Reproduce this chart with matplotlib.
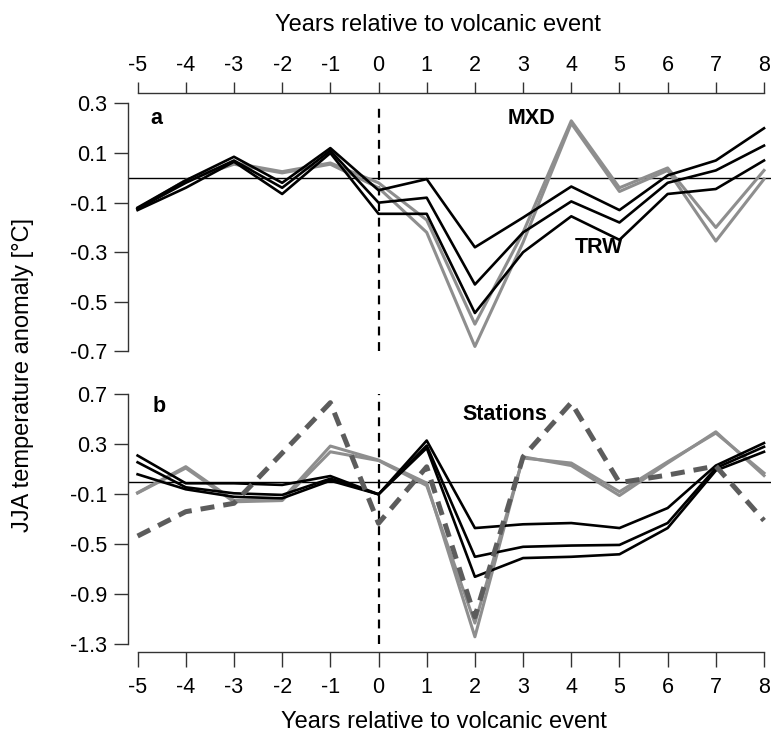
import matplotlib
matplotlib.use('Agg')
import matplotlib.pyplot as plt

plt.rcParams['font.family'] = ['Liberation Sans', 'DejaVu Sans']

years = list(range(-5, 9))

# panel a: tree-ring width (black) and max. latewood density (grey)
trw_a = [
    [-0.12, -0.01, 0.085, -0.02, 0.12, -0.05, -0.005, -0.28, -0.16, -0.035, -0.13, 0.01, 0.07, 0.20],
    [-0.125, -0.02, 0.07, -0.04, 0.11, -0.10, -0.08, -0.43, -0.22, -0.095, -0.18, -0.02, 0.03, 0.13],
    [-0.13, -0.04, 0.065, -0.065, 0.10, -0.145, -0.145, -0.545, -0.30, -0.155, -0.25, -0.065, -0.045, 0.07],
]
mxd_a = [
    [-0.125, -0.01, 0.06, 0.025, 0.06, -0.02, -0.17, -0.59, -0.22, 0.23, -0.04, 0.04, -0.20, 0.03],
    [-0.125, -0.01, 0.055, 0.02, 0.055, -0.04, -0.22, -0.68, -0.26, 0.22, -0.055, 0.03, -0.255, -0.005],
]

# panel b: same proxies plus instrumental stations (dashed)
trw_b = [
    [0.21, -0.012, -0.012, -0.025, 0.046, -0.10, 0.33, -0.37, -0.34, -0.33, -0.37, -0.21, 0.13, 0.31],
    [0.156, -0.044, -0.092, -0.105, 0.025, -0.10, 0.29, -0.60, -0.52, -0.51, -0.505, -0.33, 0.11, 0.28],
    [0.06, -0.06, -0.12, -0.132, 0.009, -0.10, 0.27, -0.76, -0.61, -0.60, -0.58, -0.37, 0.09, 0.24],
]
mxd_b = [
    [-0.087, 0.121, -0.15, -0.14, 0.286, 0.174, -0.01, -1.24, 0.20, 0.13, -0.11, 0.15, 0.40, 0.05],
    [-0.09, 0.11, -0.16, -0.15, 0.24, 0.17, -0.03, -1.13, 0.19, 0.15, -0.08, 0.16, 0.39, 0.07],
]
stations = [-0.434, -0.239, -0.172, 0.23, 0.633, -0.332, 0.12, -1.08, 0.20, 0.633, -0.007, 0.054, 0.126, -0.31]

yticks_a = [0.3, 0.1, -0.1, -0.3, -0.5, -0.7]
yticks_b = [0.7, 0.3, -0.1, -0.5, -0.9, -1.3]

W, H = 772, 733
fig = plt.figure(figsize=(W / 100, H / 100), dpi=100)
fig.patch.set_facecolor('white')

GREY = '#8e8e8e'
DARK = '#5c5c5c'
AXC = '#333333'
TICKFS = 15.5

def px_box(left, top, right, bottom):
    return [left / W, 1 - bottom / H, (right - left) / W, (bottom - top) / H]

ax_a = fig.add_axes(px_box(128.3, 93.3, 771, 356.4))
ax_b = fig.add_axes(px_box(128.3, 391.8, 771, 652.3))

xlim = (-5.193, 8.145)

def style(ax, yticks, top):
    ax.set_xlim(*xlim)
    for s in ax.spines.values():
        s.set_visible(False)
    ax.spines['left'].set_visible(True)
    ax.spines['left'].set_bounds(min(yticks), max(yticks))
    xs = 'top' if top else 'bottom'
    ax.spines[xs].set_visible(True)
    ax.spines[xs].set_bounds(-5, 8)
    for s in ('left', xs):
        ax.spines[s].set_color(AXC)
        ax.spines[s].set_linewidth(1.0)
    ax.set_xticks(years)
    ax.set_xticklabels([str(v) for v in years])
    ax.set_yticks(yticks)
    ax.set_yticklabels(['%.1f' % v for v in yticks])
    ax.tick_params(axis='y', length=10, width=1.0, color=AXC, pad=5, labelsize=TICKFS)
    if top:
        ax.xaxis.tick_top()
        ax.tick_params(axis='x', length=7.7, width=1.0, color=AXC, pad=4.5, labelsize=TICKFS)
    else:
        ax.tick_params(axis='x', length=11, width=1.0, color=AXC, pad=7, labelsize=TICKFS)
    ax.axhline(0, color='black', lw=1.0, zorder=1)

# panel a
style(ax_a, yticks_a, top=True)
ax_a.set_ylim(-0.72, 0.341)
ax_a.vlines(0, -0.7, 0.3, colors='black', linestyles=(0, (4, 3)), lw=1.6, zorder=2)
for s in mxd_a:
    ax_a.plot(years, s, color=GREY, lw=2.2, zorder=3)
for s in trw_a:
    ax_a.plot(years, s, color='black', lw=1.9, zorder=4)
ax_a.text(-4.6, 0.24, 'a', fontsize=15.5, fontweight='bold', va='center', ha='center')
ax_a.text(3.18, 0.24, 'MXD', fontsize=15.5, fontweight='bold', va='center', ha='center')
ax_a.text(4.58, -0.282, 'TRW', fontsize=15.5, fontweight='bold', va='center', ha='center')

# panel b
style(ax_b, yticks_b, top=False)
ax_b.set_ylim(-1.364, 0.72)
ax_b.vlines(0, -1.3, 0.7, colors='black', linestyles=(0, (4, 3)), lw=1.6, zorder=2)
for s in mxd_b:
    ax_b.plot(years, s, color=GREY, lw=2.2, zorder=3)
for s in trw_b:
    ax_b.plot(years, s, color='black', lw=1.9, zorder=4)
ax_b.plot(years, stations, color=DARK, lw=3.6, linestyle=(0, (2.8, 1.8)), zorder=5)
ax_b.text(-4.55, 0.6, 'b', fontsize=15.5, fontweight='bold', va='center', ha='center')
ax_b.text(2.62, 0.542, 'Stations', fontsize=15.5, fontweight='bold', va='center', ha='center')

fig.text(438 / W, 1 - 25 / H, 'Years relative to volcanic event', fontsize=17,
         ha='center', va='center')
fig.text(444 / W, 1 - 722 / H, 'Years relative to volcanic event', fontsize=17,
         ha='center', va='center')
fig.text(23 / W, 1 - 375 / H, 'JJA temperature anomaly [°C]', fontsize=17,
         ha='center', va='center', rotation=90)

plt.savefig('out.png', dpi=100, facecolor='white')
